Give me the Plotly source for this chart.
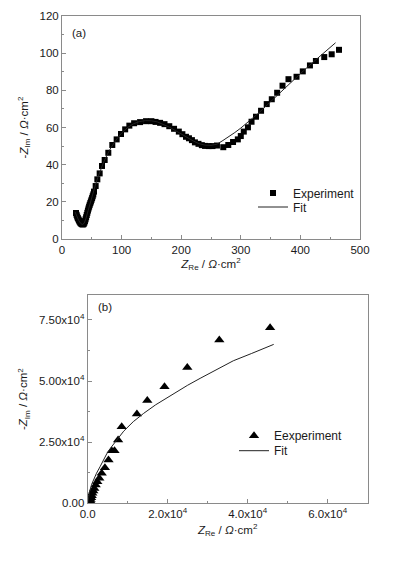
import plotly.graph_objects as go

W, H = 396, 561

# ---------------- panel (a) data ----------------
a_exp_x = [23.5, 24.5, 25.5, 26.5, 27.5, 28.5, 29.5, 30.5, 31.5, 32.5, 33.5, 34.5, 35.5, 36.5,
           37.5, 38.5, 39.5, 40.5, 41.5, 42.5, 43.5, 44.5, 45.5, 46.5, 47.5, 48.5, 49.5, 50.5,
           51.5, 52.5, 53.7, 56.5, 59.3, 63.2, 67.1, 71.6, 77.7, 84.4, 91.7, 99, 106, 113, 121,
           131, 141, 150, 157, 164.6, 172, 180, 188, 196, 202, 208, 213, 218, 223, 229, 234.6,
           240, 246, 252.5, 260, 270.6, 279, 287, 295, 300, 305, 312, 318, 325.5, 334, 343.5,
           352, 361, 370, 380, 393.5, 404, 416, 426, 440, 452.5, 464.8]
a_exp_y = [14.0, 13.0, 12.1, 11.3, 10.6, 10.0, 9.4, 8.9, 8.5, 8.2, 8.0, 7.9, 7.9, 8.2,
           8.8, 9.6, 10.6, 11.7, 12.9, 14.1, 15.3, 16.4, 17.4, 18.4, 19.3, 20.2, 21.1, 22.0,
           23.0, 24.0, 25.5, 28.5, 32.1, 35.3, 39.3, 42.5, 46.4, 50.6, 53.6, 56.5, 59.0, 61.0, 62.3,
           62.9, 63.4, 63.4, 63.0, 62.5, 61.8, 60.7, 59.3, 57.8, 56.4, 55.0, 54.2, 53.2, 52.0, 51.2, 50.5,
           50.1, 50.0, 50.0, 50.3, 49.4, 50.6, 52.2, 53.6, 55.4, 57.8, 60.1, 63.1, 65.8, 69.0, 72.6,
           75.2, 78.7, 82.5, 86.0, 87.3, 90.2, 93.4, 95.8, 97.9, 99.4, 101.8]

a_fit_x = [22, 25, 28, 31, 34, 37, 40, 44, 48, 52, 56, 60, 65, 70, 80, 90, 100, 110, 120, 130,
           140, 150, 160, 170, 180, 190, 200, 210, 220, 230, 240, 250, 260, 270, 280, 290, 300,
           315, 330, 345, 360, 380, 400, 420, 440, 459]
a_fit_y = [14.5, 12.0, 10.0, 8.5, 7.8, 8.4, 10.8, 15.5, 20.5, 25.0, 29.0, 33.0, 37.5, 41.5, 48.0,
           53.0, 57.0, 60.0, 62.0, 63.2, 63.7, 63.6, 63.0, 61.8, 60.2, 58.4, 56.5, 54.6, 52.8, 51.3,
           50.5, 50.4, 51.0, 53.0, 55.0, 57.3, 59.7, 63.5, 67.8, 72.4, 77.0, 83.0, 89.0, 94.8,
           100.3, 105.6]

# ---------------- panel (b) data ----------------
b_exp_x = [200, 300, 400, 500, 600, 700, 850, 1000, 1150, 1400, 1650, 2000, 2400, 2900, 3500,
           4300, 5200, 6000, 6700, 7600, 8500, 12300, 14900, 19200, 24900, 32900, 45600]
b_exp_y = [100, 200, 300, 300, 1000, 1600, 2300, 3100, 4100, 5000, 6100, 7500, 8800, 10200, 12300,
           14500, 17700, 21500, 21500, 25900, 31300, 36500, 42000, 47700, 55500, 66800, 71800]

b_fit_x = [0, 200, 500, 1000, 1500, 2200, 3100, 4000, 4750, 6000, 7200, 9000, 11400, 14000,
           17000, 21400, 25000, 28100, 32000, 36400, 41000, 46500]
b_fit_y = [0, 2500, 5000, 7800, 9900, 12300, 15000, 17900, 20200, 23200, 25900, 29500, 33400,
           36800, 40300, 44800, 48300, 51100, 54600, 58300, 61300, 65000]

b_y_ticks = [0, 25000, 50000, 75000]
b_y_text = ["0.00", "2.50x10<sup>4</sup>", "5.00x10<sup>4</sup>", "7.50x10<sup>4</sup>"]
b_x_ticks = [0, 20000, 40000, 60000]
b_x_text = ["0.0", "2.0x10<sup>4</sup>", "4.0x10<sup>4</sup>", "6.0x10<sup>4</sup>"]

FONT = "Liberation Sans, Arial, sans-serif"
AX = "#8a8a8a"
TXT = "#1a1a1a"

fig = go.Figure()

fig.add_trace(go.Scatter(x=a_exp_x, y=a_exp_y, mode="markers", name="Experiment",
                         marker=dict(symbol="square", size=6, color="black"),
                         xaxis="x", yaxis="y", legend="legend"))
fig.add_trace(go.Scatter(x=a_fit_x, y=a_fit_y, mode="lines", name="Fit",
                         line=dict(color="#222222", width=1),
                         xaxis="x", yaxis="y", legend="legend2"))
fig.add_trace(go.Scatter(x=b_exp_x, y=b_exp_y, mode="markers", name="Eexperiment",
                         marker=dict(symbol="triangle-up", size=9, color="black"),
                         xaxis="x2", yaxis="y2", legend="legend3"))
fig.add_trace(go.Scatter(x=b_fit_x, y=b_fit_y, mode="lines", name="Fit",
                         line=dict(color="#222222", width=1),
                         xaxis="x2", yaxis="y2", legend="legend4"))

def axis_common():
    return dict(showline=True, linecolor=AX, linewidth=1, mirror=True, ticks="inside",
                ticklen=4, tickcolor=AX, tickwidth=1, showgrid=False, zeroline=False,
                automargin=False,
                tickfont=dict(family=FONT, size=11.5, color=TXT),
                title_font=dict(family=FONT, size=11.5, color=TXT))

xa = axis_common()
xa.update(domain=[62 / W, 360 / W], range=[0, 500], tickvals=[0, 100, 200, 300, 400, 500],
          minor=dict(ticks="inside", ticklen=2, tickcolor=AX, dtick=50, tick0=0),
          title=dict(text="<i>Z</i><sub>Re</sub> / <i>Ω</i>·cm<sup>2</sup>", standoff=4),
          anchor="y")
ya = axis_common()
ya.update(domain=[1 - 239 / H, 1 - 16 / H], range=[0, 120], tickvals=[0, 20, 40, 60, 80, 100, 120],
          minor=dict(ticks="inside", ticklen=2, tickcolor=AX, dtick=10, tick0=0),
          title=dict(text="-<i>Z</i><sub>Im</sub> / <i>Ω</i>·cm<sup>2</sup>", standoff=8),
          anchor="x")
xb = axis_common()
xb.update(domain=[87.7 / W, 367.7 / W], range=[0, 70000], tickvals=b_x_ticks, ticktext=b_x_text,
          minor=dict(ticks="inside", ticklen=2, tickcolor=AX, dtick=10000, tick0=0),
          title=dict(text="<i>Z</i><sub>Re</sub> / <i>Ω</i>·cm<sup>2</sup>", standoff=6),
          anchor="y2")
yb = axis_common()
yb.update(domain=[1 - 503.3 / H, 1 - 295 / H], range=[0, 85200], tickvals=b_y_ticks, ticktext=b_y_text,
          minor=dict(ticks="inside", ticklen=2, tickcolor=AX, dtick=12500, tick0=0),
          title=dict(text="-<i>Z</i><sub>Im</sub> / <i>Ω</i>·cm<sup>2</sup>", standoff=8),
          anchor="x2")

leg = dict(font=dict(family=FONT, size=12, color=TXT), bgcolor="rgba(0,0,0,0)",
           borderwidth=0, xanchor="left", yanchor="middle", itemwidth=30)

fig.update_layout(
    width=W, height=H, margin=dict(l=0, r=0, t=0, b=0, autoexpand=False),
    paper_bgcolor="white", plot_bgcolor="white",
    xaxis=xa, yaxis=ya, xaxis2=xb, yaxis2=yb,
    showlegend=True,
    legend=dict(leg, x=253 / W, y=1 - 193 / H),
    legend2=dict(leg, x=253 / W, y=1 - 207 / H),
    legend3=dict(leg, x=234 / W, y=1 - 435.7 / H),
    legend4=dict(leg, x=234 / W, y=1 - 450.7 / H),
    annotations=[
        dict(text="(a)", xref="paper", yref="paper", x=70 / W, y=1 - 33 / H, showarrow=False,
             xanchor="left", yanchor="middle", font=dict(family=FONT, size=11.5, color=TXT)),
        dict(text="(b)", xref="paper", yref="paper", x=96 / W, y=1 - 306.5 / H, showarrow=False,
             xanchor="left", yanchor="middle", font=dict(family=FONT, size=11.5, color=TXT)),
    ],
)

fig.write_html("out.html", config={"displayModeBar": False},
               post_script="document.body.style.margin='0';")
